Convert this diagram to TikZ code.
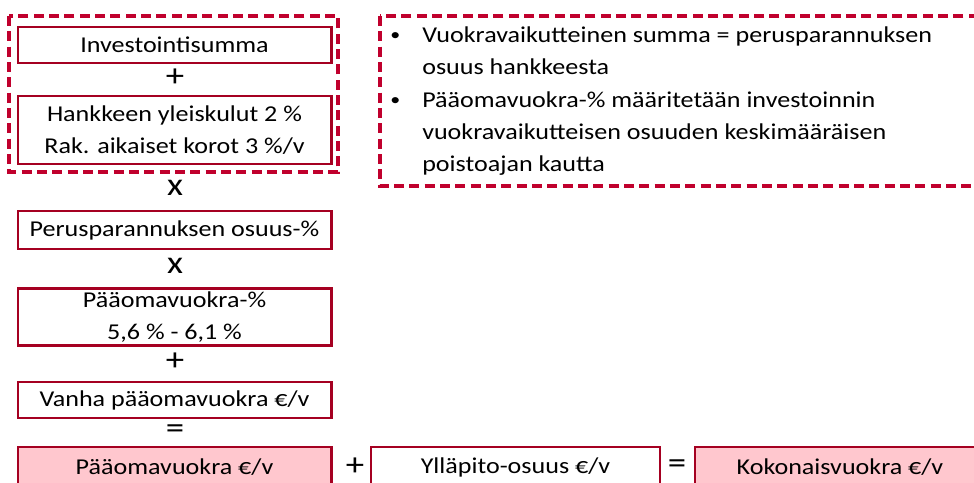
\documentclass[tikz,border=0pt]{standalone}
\usepackage{fontspec}
\setmainfont{Carlito}[FakeStretch=1.15]
\usetikzlibrary{positioning}
\definecolor{boxred}{RGB}{165,0,33}
\definecolor{dashred}{RGB}{192,0,45}
\definecolor{rentpink}{RGB}{255,199,206}
\tikzset{termbox/.style={rectangle, draw=boxred, line width=2pt, fill=white,
    minimum width=235pt, align=center, inner sep=0pt,
    font=\fontsize{17}{23.5}\selectfont}}
\tikzset{resultbox/.style={termbox, fill=rentpink}}
\tikzset{opsign/.style={inner sep=0pt, font=\fontsize{24}{24}\selectfont}}
\tikzset{groupline/.style={draw=dashred, line width=2.3pt, dash pattern=on 7.5pt off 4pt}}
\tikzset{notetext/.style={anchor=base west, inner sep=0pt,
    font=\fontsize{17}{24}\selectfont}}
\tikzset{notedot/.style={notetext, font=\fontsize{13}{13}\selectfont}}

\begin{document}
\begin{tikzpicture}[x=0.75pt, y=-0.75pt]
\useasboundingbox (0,0) rectangle (974,482);
\clip (0,0) rectangle (974,482);

% left column
\node (sum) [termbox, minimum height=27pt] at (174.5,45) {Investointisumma};
\node (plusA) [opsign] at (175,78) {+};
\node (costs) [termbox, minimum height=51pt] at (174.5,130) {Hankkeen yleiskulut 2 \%\\Rak. aikaiset korot 3 \%/v};
\node (timesA) [opsign] at (175,188) {x};
\node (share) [termbox, minimum height=28.5pt] at (174.5,230) {Perusparannuksen osuus-\%};
\node (timesB) [opsign] at (175,266) {x};
\node (rate) [termbox, minimum height=43pt] at (174.5,317) {Pääomavuokra-\%\\5,6 \% - 6,1 \%};
\node (plusB) [opsign] at (175,362) {+};
\node (old) [termbox, minimum height=27pt] at (174.5,400) {Vanha pääomavuokra €/v};
\node (equalA) [opsign] at (175,432) {=};

% bottom row
\node (capital) [resultbox, minimum height=30pt] at (174.5,467) {Pääomavuokra €/v};
\node (plusC) [opsign] at (355,467) {+};
\node (upkeep) [termbox, minimum width=216.75pt, minimum height=30pt] at (515.5,467) {Ylläpito-osuus €/v};
\node (equalB) [opsign] at (677,467) {=};
\node (total) [resultbox, minimum width=217.5pt, minimum height=30pt] at (840,467) {Kokonaisvuokra €/v};

% dashed groups
\draw [groupline] (9,16) rectangle (338,172);
\draw [groupline] (380,16) rectangle (1000,186);

% notes
\node (dotA) [notedot] at (390,40) {\textbullet};
\node (noteA) [notetext] at (422,42) {\parbox[t]{420pt}{Vuokravaikutteinen summa = perusparannuksen\\osuus hankkeesta}};
\node (dotB) [notedot] at (390,105) {\textbullet};
\node (noteB) [notetext] at (422,107) {\parbox[t]{420pt}{Pääomavuokra-\% määritetään investoinnin\\vuokravaikutteisen osuuden keskimääräisen\\poistoajan kautta}};

\end{tikzpicture}
\end{document}
